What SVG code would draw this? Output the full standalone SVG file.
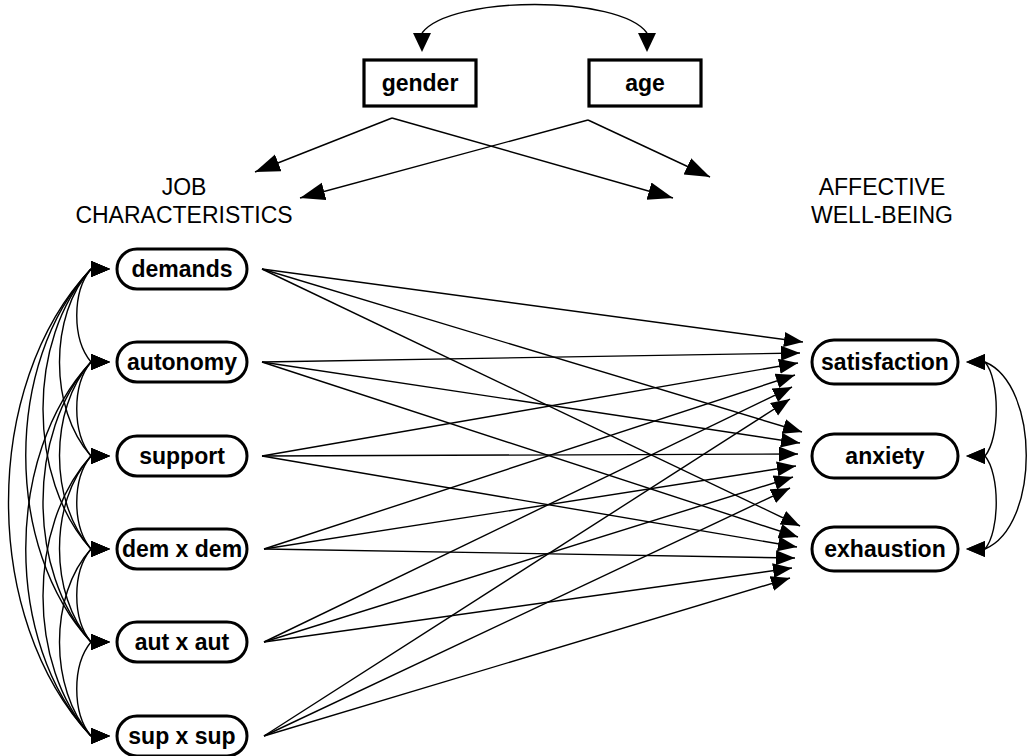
<svg xmlns="http://www.w3.org/2000/svg" width="1028" height="756" viewBox="0 0 1028 756">
<style>
.box{fill:#fff;stroke:#000;stroke-width:3.2}
.node{fill:#fff;stroke:#000;stroke-width:3}
.t{font-family:"Liberation Sans",Arial,sans-serif;font-weight:bold;font-size:23px;text-anchor:middle;fill:#000}
.lbl{font-family:"Liberation Sans",Arial,sans-serif;font-size:23px;text-anchor:middle;fill:#000}
.c{fill:none;stroke:#000;stroke-width:1.4}
.a{marker-end:url(#ah)}
.b{marker-end:url(#big)}
.L{marker-start:url(#hR);marker-end:url(#hR)}
.R{marker-start:url(#hL);marker-end:url(#hL)}
</style>
<defs>
<marker id="ah" markerUnits="userSpaceOnUse" markerWidth="22" markerHeight="16" refX="19" refY="7.5" orient="auto"><path d="M0,0 L19,7.5 L0,15 z" fill="#000"/></marker>
<marker id="big" markerUnits="userSpaceOnUse" markerWidth="28" markerHeight="20" refX="25" refY="9" orient="auto"><path d="M0,0 L25,9 L0,18 z" fill="#000"/></marker>
<marker id="hR" markerUnits="userSpaceOnUse" markerWidth="22" markerHeight="18" refX="0" refY="8" orient="0"><path d="M0,0 L19,8 L0,16 z" fill="#000"/></marker>
<marker id="hL" markerUnits="userSpaceOnUse" markerWidth="22" markerHeight="18" refX="0" refY="8" orient="180"><path d="M0,0 L19,8 L0,16 z" fill="#000"/></marker>
<marker id="hD" markerUnits="userSpaceOnUse" markerWidth="22" markerHeight="20" refX="0" refY="9" orient="90"><path d="M0,0 L19,9 L0,18 z" fill="#000"/></marker>
</defs>
<rect width="1028" height="756" fill="#fff"/>
<g id="connectors">
<path class="c" d="M422 33 C450 -5,620 -5,647 33" style="marker-start:url(#hD);marker-end:url(#hD)"/>
<path class="c b" d="M392 118 L255 172"/>
<path class="c b" d="M392 118 L673 198"/>
<path class="c b" d="M588 120 L300 198"/>
<path class="c b" d="M588 120 L710 177"/>
<!-- left covariances -->
<path class="c L" d="M91 269 C72 292,72 339,91 362"/>
<path class="c L" d="M91 269 C49 315,49 409,91 456"/>
<path class="c L" d="M91 269 C27 339,27 479,91 549"/>
<path class="c L" d="M91 269 C4 362,4 549,91 642"/>
<path class="c L" d="M91 269 C-19 385,-19 619,91 736"/>
<path class="c L" d="M91 362 C72 385,72 432,91 456"/>
<path class="c L" d="M91 362 C49 409,49 502,91 549"/>
<path class="c L" d="M91 362 C27 432,27 572,91 642"/>
<path class="c L" d="M91 362 C4 455,4 643,91 736"/>
<path class="c L" d="M91 456 C72 479,72 526,91 549"/>
<path class="c L" d="M91 456 C49 502,49 595,91 642"/>
<path class="c L" d="M91 456 C27 526,27 666,91 736"/>
<path class="c L" d="M91 549 C72 572,72 619,91 642"/>
<path class="c L" d="M91 549 C49 595,49 689,91 736"/>
<path class="c L" d="M91 642 C72 665,72 713,91 736"/>
<!-- right covariances -->
<path class="c R" d="M985 362 C1000 380,1000 438,985 456"/>
<path class="c R" d="M985 456 C1000 474,1000 531,985 549"/>
<path class="c R" d="M985 362 C1040 385,1040 526,985 549"/>
<!-- paths -->
<path class="c a" d="M262 269 L803 342"/>
<path class="c a" d="M262 269 L802 432"/>
<path class="c a" d="M262 269 L800 526"/>
<path class="c a" d="M262 362 L800 353"/>
<path class="c a" d="M262 362 L800 443"/>
<path class="c a" d="M262 362 L798 537"/>
<path class="c a" d="M262 456 L798 363"/>
<path class="c a" d="M262 456 L798 454"/>
<path class="c a" d="M262 456 L797 547"/>
<path class="c a" d="M264 549 L795 375"/>
<path class="c a" d="M264 549 L796 466"/>
<path class="c a" d="M264 549 L795 558"/>
<path class="c a" d="M264 642 L792 387"/>
<path class="c a" d="M264 642 L793 477"/>
<path class="c a" d="M264 642 L792 568"/>
<path class="c a" d="M264 736 L790 399"/>
<path class="c a" d="M264 736 L790 488"/>
<path class="c a" d="M264 736 L790 578"/>
</g>
<g id="gender"><rect class="box" x="364" y="60" width="112" height="46"/><text class="t" x="420" y="91">gender</text></g>
<g id="age"><rect class="box" x="589" y="60" width="112" height="46"/><text class="t" x="645" y="91">age</text></g>
<g id="label-job"><text class="lbl" x="184" y="195">JOB</text><text class="lbl" x="184" y="223">CHARACTERISTICS</text></g>
<g id="label-awb"><text class="lbl" x="882" y="195">AFFECTIVE</text><text class="lbl" x="882" y="223">WELL-BEING</text></g>
<g id="demands"><rect class="node" x="117" y="249" width="130" height="40" rx="20"/><text class="t" x="182" y="277">demands</text></g>
<g id="autonomy"><rect class="node" x="117" y="342" width="130" height="40" rx="20"/><text class="t" x="182" y="370">autonomy</text></g>
<g id="support"><rect class="node" x="117" y="436" width="130" height="40" rx="20"/><text class="t" x="182" y="464">support</text></g>
<g id="demxdem"><rect class="node" x="117" y="529" width="130" height="40" rx="20"/><text class="t" x="182" y="557">dem x dem</text></g>
<g id="autxaut"><rect class="node" x="117" y="622" width="130" height="40" rx="20"/><text class="t" x="182" y="650">aut x aut</text></g>
<g id="supxsup"><rect class="node" x="117" y="716" width="130" height="40" rx="20"/><text class="t" x="182" y="744">sup x sup</text></g>
<g id="satisfaction"><rect class="node" x="812" y="340" width="146" height="44" rx="22"/><text class="t" x="885" y="370">satisfaction</text></g>
<g id="anxiety"><rect class="node" x="812" y="434" width="146" height="44" rx="22"/><text class="t" x="885" y="464">anxiety</text></g>
<g id="exhaustion"><rect class="node" x="812" y="527" width="146" height="44" rx="22"/><text class="t" x="885" y="557">exhaustion</text></g>
</svg>
